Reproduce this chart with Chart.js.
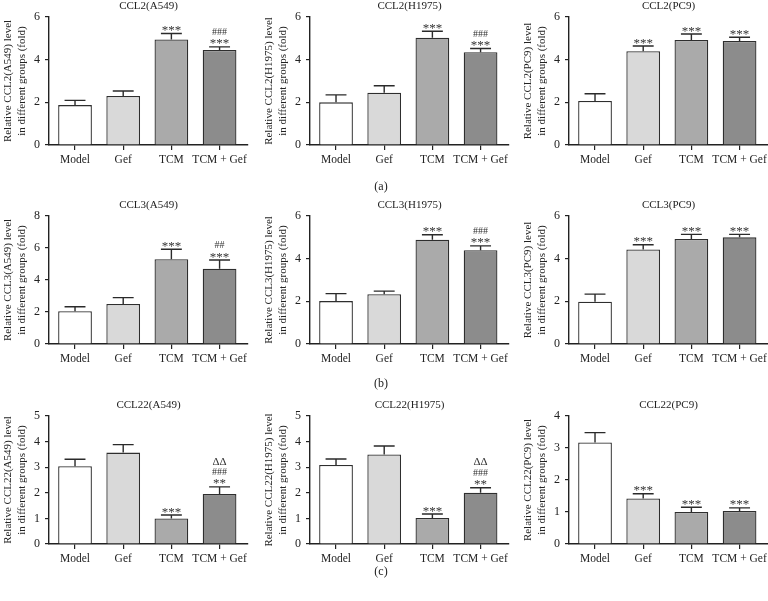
<!DOCTYPE html>
<html>
<head>
<meta charset="utf-8">
<script src="https://cdn.jsdelivr.net/npm/chart.js@4.4.1/dist/chart.umd.min.js"></script>
<style>
    body { margin: 0; width: 768px; height: 601px; overflow: hidden; background: #fff; position: relative; font-family: 'Liberation Serif', serif; }
    .panel { position: absolute; width: 250px; height: 180px; }
    .tag { position: absolute; font-size: 12px; color: #222; transform: translate(-50%, -50%); }
</style>
</head>
<body>
<div class="panel" style="left:0;top:0"><canvas id="c1" width="250" height="180"></canvas></div>
<div class="panel" style="left:261px;top:0"><canvas id="c2" width="250" height="180"></canvas></div>
<div class="panel" style="left:520px;top:0"><canvas id="c3" width="250" height="180"></canvas></div>
<div class="panel" style="left:0;top:199px"><canvas id="c4" width="250" height="180"></canvas></div>
<div class="panel" style="left:261px;top:199px"><canvas id="c5" width="250" height="180"></canvas></div>
<div class="panel" style="left:520px;top:199px"><canvas id="c6" width="250" height="180"></canvas></div>
<div class="panel" style="left:0;top:399px"><canvas id="c7" width="250" height="180"></canvas></div>
<div class="panel" style="left:261px;top:399px"><canvas id="c8" width="250" height="180"></canvas></div>
<div class="panel" style="left:520px;top:399px"><canvas id="c9" width="250" height="180"></canvas></div>
<div class="tag" style="left:381px;top:186px">(a)</div>
<div class="tag" style="left:381px;top:383px">(b)</div>
<div class="tag" style="left:381px;top:571px">(c)</div>
<script>
// groups on the x axis
var groups = ['Model', 'Gef', 'TCM', 'TCM + Gef'];

// CCL2 (row a)
var ccl2A549 = [1.87, 2.30, 4.95, 4.45];
var ccl2A549Err = [0.22, 0.23, 0.28, 0.15];
var ccl2H1975 = [2.00, 2.45, 5.03, 4.35];
var ccl2H1975Err = [0.35, 0.33, 0.30, 0.17];
var ccl2PC9 = [2.06, 4.40, 4.92, 4.88];
var ccl2PC9Err = [0.34, 0.24, 0.28, 0.17];

// CCL3 (row b)
var ccl3A549 = [2.05, 2.50, 5.30, 4.70];
var ccl3A549Err = [0.28, 0.40, 0.62, 0.55];
var ccl3H1975 = [2.01, 2.33, 4.89, 4.40];
var ccl3H1975Err = [0.35, 0.15, 0.23, 0.20];
var ccl3PC9 = [1.98, 4.43, 4.92, 5.00];
var ccl3PC9Err = [0.36, 0.22, 0.22, 0.14];

// CCL22 (row c)
var ccl22A549 = [3.04, 3.57, 1.00, 1.95];
var ccl22A549Err = [0.27, 0.31, 0.13, 0.28];
var ccl22H1975 = [3.09, 3.50, 1.02, 2.00];
var ccl22H1975Err = [0.23, 0.33, 0.15, 0.20];
var ccl22PC9 = [3.17, 1.42, 1.00, 1.03];
var ccl22PC9Err = [0.31, 0.15, 0.15, 0.10];

// significance marks, listed bottom to top
var marksTcmGef3 = [[], [], ['***'], ['***', '###']];
var marksTcmGef2 = [[], [], ['***'], ['***', '##']];
var marksAll = [[], ['***'], ['***'], ['***']];
var marksDelta = [[], [], ['***'], ['**', '###', 'ΔΔ']];

// y axis ticks
var ticks6 = [0, 2, 4, 6];
var ticks8 = [0, 2, 4, 6, 8];
var ticks5 = [0, 1, 2, 3, 4, 5];
var ticks4 = [0, 1, 2, 3, 4];

var FONT = "'Liberation Serif', 'Times New Roman', serif";
var INK = '#222';
var fills = ['#ffffff', '#d9d9d9', '#aaaaaa', '#8c8c8c'];

var makeDecor = function (title, errs, marks) {
    return {
        id: 'decor',
        afterDatasetsDraw: function (chart) {
            var ctx = chart.ctx;
            var y = chart.scales.y;
            var meta = chart.getDatasetMeta(0);
            var values = chart.data.datasets[0].data;
            ctx.save();
            ctx.strokeStyle = '#2a2a2a';
            ctx.lineWidth = 1.4;
            meta.data.forEach(function (bar, i) {
                var top = y.getPixelForValue(values[i].y + errs[i]);
                var half = bar.width * 0.31;
                ctx.beginPath();
                ctx.moveTo(bar.x, bar.y);
                ctx.lineTo(bar.x, top);
                ctx.moveTo(bar.x - half, top);
                ctx.lineTo(bar.x + half, top);
                ctx.stroke();

                // stacked significance text
                var center = top - 6;
                marks[i].forEach(function (m, k) {
                    var size, lift;
                    if (m.charAt(0) === '*') { size = 13; lift = 0.5; }
                    else if (m.charAt(0) === '#') { size = 10; lift = 0.34; }
                    else { size = 11; lift = 0.34; }
                    if (k > 0) center -= (m.charAt(0) === 'Δ') ? 11 : 9;
                    ctx.font = size + 'px ' + FONT;
                    ctx.fillStyle = '#333';
                    ctx.textAlign = 'center';
                    ctx.textBaseline = 'alphabetic';
                    ctx.fillText(m, bar.x, center + lift * size);
                });
            });
            ctx.restore();
        },
        afterDraw: function (chart) {
            var ctx = chart.ctx;
            var area = chart.chartArea;
            ctx.save();
            ctx.font = '11px ' + FONT;
            ctx.fillStyle = INK;
            ctx.textAlign = 'center';
            ctx.textBaseline = 'middle';
            ctx.fillText(title, (area.left + area.right) / 2, area.top - 10.5);
            ctx.restore();
        }
    };
};

var drawPanel = function (id, title, values, errs, marks, tickValues, yLabel) {
    var ctx = document.getElementById(id).getContext('2d');
    var config = {
        type: 'bar',
        data: {
            datasets: [{
                data: values.map(function (v, i) { return { x: i, y: v }; }),
                backgroundColor: fills,
                borderColor: '#2e2e2e',
                borderWidth: 1.3,
                barPercentage: 0.7,
                categoryPercentage: 1
            }]
        },
        options: {
            responsive: false,
            animation: false,
            layout: { padding: { top: 17, right: 2, left: 0, bottom: 0 } },
            plugins: { legend: { display: false }, tooltip: { enabled: false } },
            scales: {
                x: {
                    type: 'linear',
                    offset: false,
                    min: -0.54,
                    max: 3.59,
                    afterBuildTicks: function (s) {
                        s.ticks = groups.map(function (g, i) { return { value: i }; });
                    },
                    afterFit: function (s) { s.height = 35; s.paddingLeft = 0; s.paddingRight = 0; },
                    ticks: {
                        callback: function (v) { return groups[v]; },
                        autoSkip: false,
                        maxRotation: 0,
                        padding: 3,
                        color: INK,
                        font: { family: FONT, size: 11.5 }
                    },
                    grid: { offset: false, drawOnChartArea: false, tickLength: 5, color: INK, lineWidth: 1.2 },
                    border: { color: INK, width: 1.4 }
                },
                y: {
                    min: 0,
                    max: tickValues[tickValues.length - 1],
                    afterBuildTicks: function (s) {
                        s.ticks = tickValues.map(function (t) { return { value: t }; });
                    },
                    afterFit: function (s) { s.width = 49; },
                    ticks: { padding: 5, color: INK, font: { family: FONT, size: 12 } },
                    grid: { drawOnChartArea: false, tickLength: 4, color: INK, lineWidth: 1.2 },
                    border: { color: INK, width: 1.4 },
                    title: {
                        display: true,
                        text: [yLabel, 'in different groups (fold)'],
                        color: INK,
                        padding: { top: 1, bottom: 0 },
                        font: { family: FONT, size: 11, lineHeight: 1.3 }
                    }
                }
            }
        },
        plugins: [makeDecor(title, errs, marks)]
    };
    return new Chart(ctx, config);
};

drawPanel('c1', 'CCL2(A549)', ccl2A549, ccl2A549Err, marksTcmGef3, ticks6, 'Relative CCL2(A549) level');
drawPanel('c2', 'CCL2(H1975)', ccl2H1975, ccl2H1975Err, marksTcmGef3, ticks6, 'Relative CCL2(H1975) level');
drawPanel('c3', 'CCL2(PC9)', ccl2PC9, ccl2PC9Err, marksAll, ticks6, 'Relative CCL2(PC9) level');
drawPanel('c4', 'CCL3(A549)', ccl3A549, ccl3A549Err, marksTcmGef2, ticks8, 'Relative CCL3(A549) level');
drawPanel('c5', 'CCL3(H1975)', ccl3H1975, ccl3H1975Err, marksTcmGef3, ticks6, 'Relative CCL3(H1975) level');
drawPanel('c6', 'CCL3(PC9)', ccl3PC9, ccl3PC9Err, marksAll, ticks6, 'Relative CCL3(PC9) level');
drawPanel('c7', 'CCL22(A549)', ccl22A549, ccl22A549Err, marksDelta, ticks5, 'Relative CCL22(A549) level');
drawPanel('c8', 'CCL22(H1975)', ccl22H1975, ccl22H1975Err, marksDelta, ticks5, 'Relative CCL22(H1975) level');
drawPanel('c9', 'CCL22(PC9)', ccl22PC9, ccl22PC9Err, marksAll, ticks4, 'Relative CCL22(PC9) level');
</script>
</body>
</html>
